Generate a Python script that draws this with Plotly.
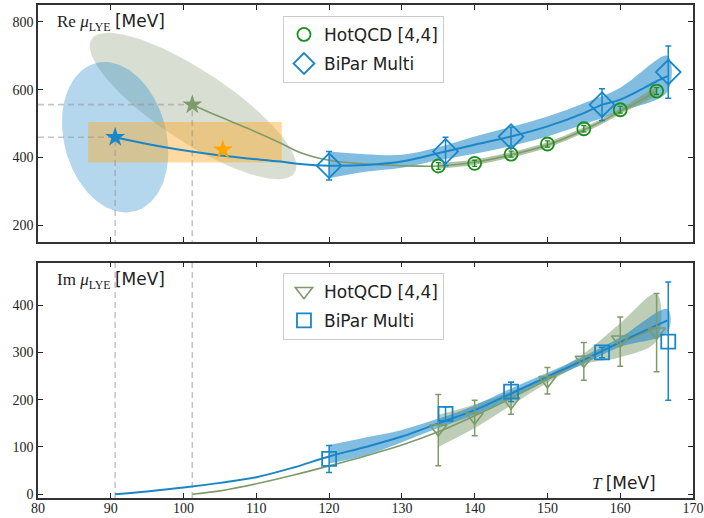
import numpy as np
import plotly.graph_objects as go

# ---------------- data ----------------
# HotQCD [4,4]
hot_T = [135, 140, 145, 150, 155, 160, 165]
hot_re = [375, 383, 410, 440, 485, 541, 596]
hot_re_err = [10, 9, 9, 9, 9, 10, 10]
hot_im = [139, 164, 196, 241, 284, 327, 344]
hot_im_lo = [60, 124, 169, 212, 241, 271, 259]
hot_im_hi = [211, 199, 237, 268, 321, 375, 425]

# BiPar Multi
bip_T = [120, 136, 145, 157.5, 166.6]
bip_re = [376, 418, 462, 556, 652]
bip_re_err = [42, 42, 28, 47, 77]
bip_im = [75, 170, 217, 300, 323]
bip_im_lo = [46, 156, 196, 289, 199]
bip_im_hi = [103, 185, 237, 311, 449]

# Fit curves: Re part
blue_re_fit_T = [90.6, 95, 99.5, 106.4, 113.3, 116, 120, 125, 130, 136, 140, 145, 150, 155, 157.5, 160, 165, 166.5]
blue_re_fit = [460, 440, 423, 403, 388, 381, 376, 378, 388, 418, 438, 462, 492, 531, 556, 571, 625, 640]
blue_re_band_T = [120, 125, 130, 135, 140, 145, 150, 155, 160, 166.5]
blue_re_band_hi = [418, 410, 408, 430, 462, 490, 521, 560, 606, 700]
blue_re_band_lo = [339, 358, 370, 392, 411, 434, 462, 498, 536, 595]

green_re_fit_T = [101.2, 105, 108.7, 113.3, 116, 120, 125, 130, 135, 140, 145, 150, 155, 160, 165]
green_re_fit = [556, 520, 487, 443, 415, 392, 381, 376, 375, 386, 408, 437, 481, 536, 596]
green_re_band_T = [135, 140, 145, 150, 155, 160, 165]
green_re_band_hi = [383, 394, 416, 445, 489, 544, 604]
green_re_band_lo = [367, 378, 400, 429, 473, 528, 588]

# Fit curves: Im part
blue_im_fit_T = [90.6, 95, 100, 105, 110, 115, 120, 125, 130, 135, 140, 145, 150, 155, 160, 166.5]
blue_im_fit = [0, 6, 14, 24, 36, 56, 80, 100, 122, 150, 178, 213, 249, 284, 322, 368]
blue_im_band_T = [120, 125, 130, 135, 140, 145, 150, 155, 160, 166.5]
blue_im_band_hi = [104, 120, 136, 160, 188, 224, 257, 292, 332, 392]
blue_im_band_lo = [65, 82, 110, 140, 168, 203, 241, 276, 312, 343]

green_im_fit_T = [101.2, 105, 110, 115, 120, 125, 130, 135, 140, 145, 150, 155, 160, 165]
green_im_fit = [0, 7, 22, 40, 60, 81, 104, 132, 166, 203, 243, 285, 320, 352]
green_im_band_T = [135, 140, 145, 150, 155, 160, 165]
green_im_band_hi = [168, 190, 218, 252, 298, 362, 425]
green_im_band_lo = [100, 140, 188, 236, 275, 290, 325]

# Lee-Yang edge estimates (stars) and uncertainty regions
star_T = [90.6, 101.2, 105.4]
star_mu = [460, 556, 423]
blue_ell = dict(T=90.6, mu=460, sT=7.3, smu=222, rho=-0.2)
green_ell = dict(T=101.3, mu=552, sT=14.2, smu=216, rho=-0.82)
rect_T = [86.9, 113.5]
rect_mu = [385, 505]

X_RANGE = [80, 170]
RE_RANGE = [150, 850]
IM_RANGE = [-8, 490]

# ---------------- styles ----------------
BLUE = "#1a86c8"
GREEN = "#1a8f1a"
OLIVE = "#7d9b6b"
ORANGE = "#ffa500"
DASH = "rgba(150,150,150,0.55)"
SERIF = "Liberation Serif"
SANS = "DejaVu Sans"


def ellipse(p, n=200):
    t = np.linspace(0, 2 * np.pi, n)
    x = p["T"] + p["sT"] * np.cos(t)
    y = p["mu"] + p["smu"] * (p["rho"] * np.cos(t) + np.sqrt(1 - p["rho"] ** 2) * np.sin(t))
    return x, y


def band(T, lo, hi, color, xa, ya):
    return go.Scatter(x=list(T) + list(T)[::-1], y=list(hi) + list(lo)[::-1],
                      fill="toself", fillcolor=color, line=dict(width=0, shape="spline"),
                      mode="lines", hoverinfo="skip", showlegend=False, xaxis=xa, yaxis=ya)


fig = go.Figure()

# --- top panel ---
ex, ey = ellipse(green_ell)
fig.add_trace(go.Scatter(x=ex, y=ey, fill="toself", fillcolor="rgba(125,150,105,0.3)",
                         line=dict(width=0), mode="lines", showlegend=False, xaxis="x", yaxis="y"))
ex, ey = ellipse(blue_ell)
fig.add_trace(go.Scatter(x=ex, y=ey, fill="toself", fillcolor="rgba(26,134,200,0.33)",
                         line=dict(width=0), mode="lines", showlegend=False, xaxis="x", yaxis="y"))
fig.add_trace(go.Scatter(x=[rect_T[0], rect_T[1], rect_T[1], rect_T[0], rect_T[0]],
                         y=[rect_mu[0], rect_mu[0], rect_mu[1], rect_mu[1], rect_mu[0]],
                         fill="toself", fillcolor="rgba(255,168,28,0.42)", line=dict(width=0),
                         mode="lines", showlegend=False, xaxis="x", yaxis="y"))
# dashed guides
for T, mu in zip(star_T[:2], star_mu[:2]):
    fig.add_trace(go.Scatter(x=[X_RANGE[0], T, T], y=[mu, mu, RE_RANGE[0]], mode="lines",
                             line=dict(color=DASH, width=1.6, dash="6px,4px"),
                             showlegend=False, hoverinfo="skip", xaxis="x", yaxis="y"))
    fig.add_trace(go.Scatter(x=[T, T], y=IM_RANGE, mode="lines",
                             line=dict(color=DASH, width=1.6, dash="6px,4px"),
                             showlegend=False, hoverinfo="skip", xaxis="x2", yaxis="y2"))

fig.add_trace(band(blue_re_band_T, blue_re_band_lo, blue_re_band_hi, "rgba(26,134,200,0.55)", "x", "y"))
fig.add_trace(band(green_re_band_T, green_re_band_lo, green_re_band_hi, "rgba(125,155,107,0.6)", "x", "y"))
fig.add_trace(go.Scatter(x=green_re_fit_T, y=green_re_fit, mode="lines",
                         line=dict(color=OLIVE, width=1.6, shape="spline"),
                         showlegend=False, xaxis="x", yaxis="y"))
fig.add_trace(go.Scatter(x=blue_re_fit_T, y=blue_re_fit, mode="lines",
                         line=dict(color=BLUE, width=2, shape="spline"),
                         showlegend=False, xaxis="x", yaxis="y"))
fig.add_trace(go.Scatter(x=hot_T, y=hot_re, mode="markers", name="HotQCD [4,4]", legendgroup="a",
                         marker=dict(symbol="circle-open", size=13, color=GREEN, line=dict(width=1.8)),
                         error_y=dict(type="data", array=hot_re_err, thickness=1.3, width=2.5, color=GREEN),
                         legend="legend", xaxis="x", yaxis="y"))
fig.add_trace(go.Scatter(x=bip_T, y=bip_re, mode="markers", name="BiPar Multi", legendgroup="b",
                         marker=dict(symbol="diamond-open", size=19, color=BLUE, line=dict(width=1.8)),
                         error_y=dict(type="data", array=bip_re_err, thickness=1.5, width=3, color=BLUE),
                         legend="legend", xaxis="x", yaxis="y"))
fig.add_trace(go.Scatter(x=star_T, y=star_mu, mode="markers",
                         marker=dict(symbol="star", size=15, color=[BLUE, OLIVE, ORANGE], line=dict(width=0)),
                         showlegend=False, xaxis="x", yaxis="y"))

# --- bottom panel ---
fig.add_trace(band(green_im_band_T, green_im_band_lo, green_im_band_hi, "rgba(125,155,107,0.5)", "x2", "y2"))
fig.add_trace(band(blue_im_band_T, blue_im_band_lo, blue_im_band_hi, "rgba(26,134,200,0.55)", "x2", "y2"))
fig.add_trace(go.Scatter(x=green_im_fit_T, y=green_im_fit, mode="lines",
                         line=dict(color=OLIVE, width=1.6, shape="spline"),
                         showlegend=False, xaxis="x2", yaxis="y2"))
fig.add_trace(go.Scatter(x=blue_im_fit_T, y=blue_im_fit, mode="lines",
                         line=dict(color=BLUE, width=2, shape="spline"),
                         showlegend=False, xaxis="x2", yaxis="y2"))
fig.add_trace(go.Scatter(x=hot_T, y=hot_im, mode="markers", name="HotQCD [4,4]", legendgroup="c",
                         marker=dict(symbol="triangle-down-open", size=15, color=OLIVE, line=dict(width=1.6)),
                         error_y=dict(type="data", symmetric=False,
                                      array=[h - v for h, v in zip(hot_im_hi, hot_im)],
                                      arrayminus=[v - l for l, v in zip(hot_im_lo, hot_im)],
                                      thickness=1.5, width=3, color=OLIVE),
                         legend="legend2", xaxis="x2", yaxis="y2"))
fig.add_trace(go.Scatter(x=bip_T, y=bip_im, mode="markers", name="BiPar Multi", legendgroup="d",
                         marker=dict(symbol="square-open", size=14, color=BLUE, line=dict(width=1.8)),
                         error_y=dict(type="data", symmetric=False,
                                      array=[h - v for h, v in zip(bip_im_hi, bip_im)],
                                      arrayminus=[v - l for l, v in zip(bip_im_lo, bip_im)],
                                      thickness=1.5, width=3, color=BLUE),
                         legend="legend2", xaxis="x2", yaxis="y2"))

axis_common = dict(range=X_RANGE, tickvals=list(range(80, 171, 10)), ticks="inside", ticklen=5,
                   tickwidth=1.2, tickcolor="#222", showline=True, linecolor="#333", linewidth=1.6,
                   mirror="ticks", showgrid=False, zeroline=False, automargin=False,
                   tickfont=dict(family=SERIF, size=14, color="#222"))

legend_common = dict(x=0.374, xanchor="left", yanchor="top", bgcolor="rgba(255,255,255,0.85)",
                     bordercolor="#cccccc", borderwidth=1, font=dict(family=SANS, size=17, color="#222"),
                     itemwidth=30, tracegroupgap=4)

fig.update_layout(
    width=704, height=518,
    margin=dict(l=38, r=11, t=5, b=20, autoexpand=False),
    paper_bgcolor="white", plot_bgcolor="white",
    xaxis=dict(axis_common, anchor="y", showticklabels=False),
    yaxis=dict(axis_common, range=RE_RANGE, tickvals=[200, 400, 600, 800], domain=[0.5187, 1], anchor="x"),
    xaxis2=dict(axis_common, anchor="y2", showticklabels=True, ticklabelstandoff=-4),
    yaxis2=dict(axis_common, range=IM_RANGE, tickvals=[0, 100, 200, 300, 400], domain=[0, 0.4773], anchor="x2"),
    legend=dict(legend_common, y=0.978),
    legend2=dict(legend_common, y=0.457),
    annotations=[
        dict(xref="paper", yref="paper", x=0.026, y=0.9655, xanchor="left", yanchor="middle", showarrow=False,
             text='Re <i>μ</i><sub>LYE</sub> <span style="font-family:DejaVu Sans">[MeV]</span>',
             font=dict(family=SERIF, size=17, color="#222")),
        dict(xref="paper", yref="paper", x=0.026, y=0.442, xanchor="left", yanchor="middle", showarrow=False,
             text='Im <i>μ</i><sub>LYE</sub> <span style="font-family:DejaVu Sans">[MeV]</span>',
             font=dict(family=SERIF, size=17, color="#222")),
        dict(xref="paper", yref="paper", x=0.9466, y=0.0304, xanchor="right", yanchor="middle", showarrow=False,
             text='<i>T</i> <span style="font-family:DejaVu Sans">[MeV]</span>',
             font=dict(family=SERIF, size=17, color="#222")),
    ],
)

fig.write_html("out.html", config={"displayModeBar": False},
               post_script="document.body.style.margin='0';")
